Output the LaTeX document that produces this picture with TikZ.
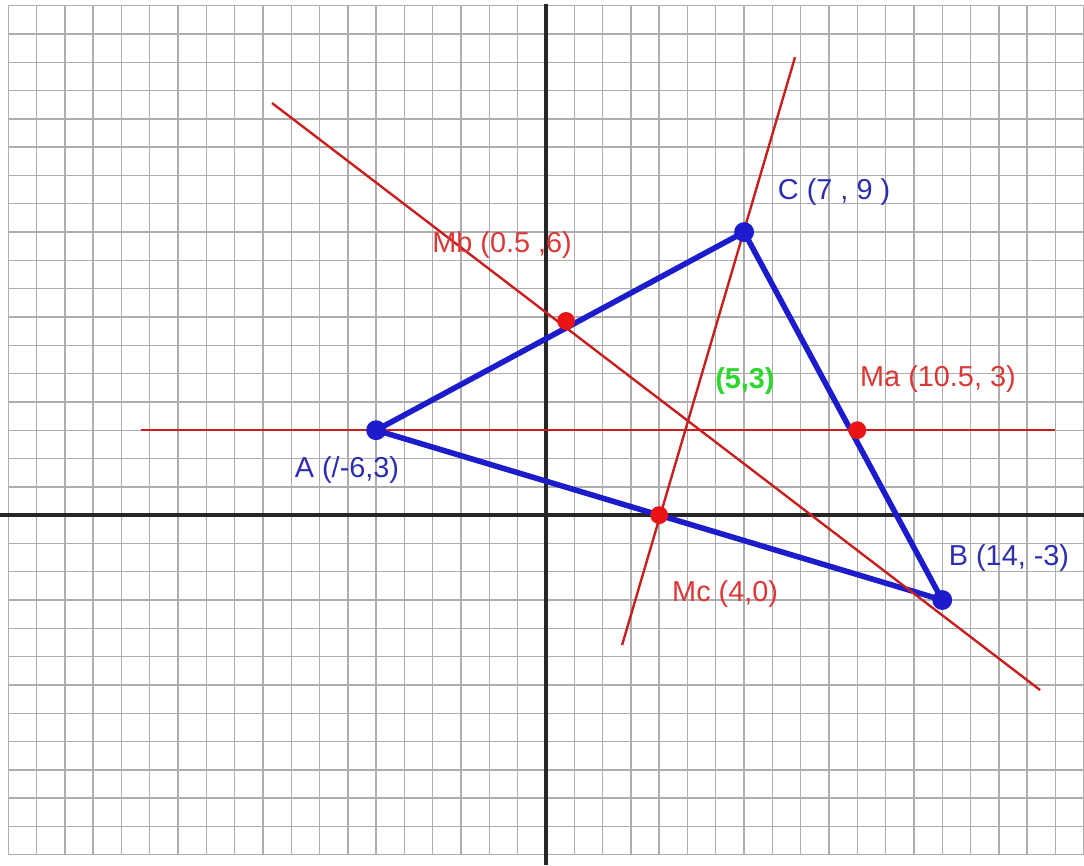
\documentclass[tikz,border=0pt]{standalone}
\usepackage{fontspec}
\setmainfont{Liberation Sans}
\definecolor{sideblue}{RGB}{28,28,205}
\definecolor{textblue}{RGB}{45,45,175}
\definecolor{linered}{RGB}{200,30,30}
\definecolor{textred}{RGB}{220,55,55}
\definecolor{dotred}{RGB}{235,20,20}
\definecolor{ptgreen}{RGB}{45,215,45}
\begin{document}
\begin{tikzpicture}[
    x=0.5cm, y=0.5cm,
    gridline/.style={black!32, line width=0.7pt},
    axis/.style={black!85, line width=2.3pt},
    side/.style={sideblue, line width=2.8pt},
    median/.style={linered, line width=1.2pt},
    every node/.style={font=\fontsize{14.5}{17}\selectfont},
    bluelabel/.style={text=textblue},
    redlabel/.style={text=textred}
]
    \useasboundingbox (-19.29,-12.37) rectangle (19.01,18.2);
    % grid and axes
    \draw[gridline, step=0.5cm] (-19,-12) grid (19,18);
    \draw[axis] (-19.29,0) -- (19.01,0);
    \draw[axis] (0,-12.37) -- (0,18.05);

    % vertices and midpoints
    \coordinate (A) at (-6,3);
    \coordinate (B) at (14,-3);
    \coordinate (C) at (7,10);
    \coordinate (Ma) at (11,3);
    \coordinate (Mb) at (0.71,6.86);
    \coordinate (Mc) at (4,0);

    % ends of the red lines
    \coordinate (h1) at (-14.3,3);
    \coordinate (h2) at (18.0,3);
    \coordinate (b1) at (-9.68,14.56);
    \coordinate (b2) at (17.46,-6.18);
    \coordinate (c1) at (2.69,-4.59);
    \coordinate (c2) at (8.80,16.18);

    \draw[side, line join=round] (A) -- (C) -- (B) -- cycle;
    \draw[median] (h1) -- (h2);
    \draw[median] (b1) -- (b2);
    \draw[median] (c1) -- (c2);

    \foreach \p in {A,B,C}
        \fill[sideblue] (\p) circle (5pt);
    \foreach \p in {Ma,Mb,Mc}
        \fill[dotred] (\p) circle (4.5pt);

    % labels
    \node[bluelabel] (labA) at (-7.03,1.59) {A (/-6,3)};
    \node[bluelabel] (labB) at (16.36,-1.52) {B (14, -3)};
    \node[bluelabel] (labC) at (10.18,11.41) {C (7 , 9 )};
    \node[redlabel] (labMa) at (13.85,4.81) {Ma (10.5, 3)};
    \node[redlabel] (labMb) at (-1.55,9.54) {Mb (0.5 ,6)};
    \node[redlabel] (labMc) at (6.33,-2.79) {Mc (4,0)};
    \node[text=ptgreen, font=\fontsize{14.5}{17}\selectfont\bfseries] (labG) at (7.03,4.73) {(5,3)};
\end{tikzpicture}
\end{document}
